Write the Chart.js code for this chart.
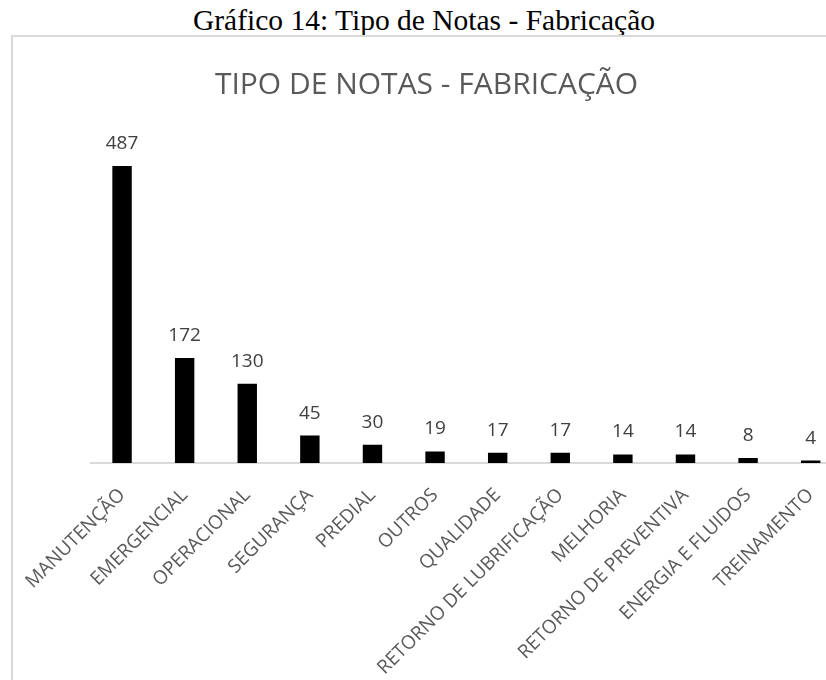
<!DOCTYPE html>
<html>
<head>
<meta charset="utf-8">
<script src="https://cdn.jsdelivr.net/npm/chart.js@4/dist/chart.umd.min.js"></script>
<style>
  html, body { margin: 0; padding: 0; width: 826px; height: 680px; overflow: hidden; background: #fff; }
  #caption { position: absolute; left: 0; top: 3px; width: 848px; height: 34px; line-height: 34px; white-space: nowrap;
             text-align: center; font-family: "Liberation Serif", "Times New Roman", serif; font-size: 29.5px; color: #000; }
  #box { position: absolute; left: 11px; top: 35px; width: 900px; height: 700px; border: 2px solid #d9d9d9; box-sizing: border-box; }
  #title { position: absolute; left: 0; top: 62px; width: 853px; height: 41px; line-height: 41px; white-space: nowrap;
           text-align: center; font-family: "Open Sans", sans-serif; font-size: 30px; color: #595959; }
  #wrap { position: absolute; left: 13px; top: 37px; width: 860px; height: 643px; }
</style>
</head>
<body>
<div id="caption">Gráfico 14: Tipo de Notas - Fabricação</div>
<div id="box"></div>
<div id="wrap"><canvas id="c" width="860" height="643"></canvas></div>
<div id="title"></div>
<script>
const chartTitle = "TIPO DE NOTAS - FABRICAÇÃO";
const categories = ["MANUTENÇÃO", "EMERGENCIAL", "OPERACIONAL", "SEGURANÇA", "PREDIAL", "OUTROS",
  "QUALIDADE", "RETORNO DE LUBRIFICAÇÃO", "MELHORIA", "RETORNO DE PREVENTIVA", "ENERGIA E FLUIDOS", "TREINAMENTO"];
const values = [487, 172, 130, 45, 30, 19, 17, 17, 14, 14, 8, 4];

document.getElementById('title').textContent = chartTitle;

const dataLabels = {
  id: 'dataLabels',
  afterDatasetsDraw(chart) {
    const ctx = chart.ctx;
    const meta = chart.getDatasetMeta(0);
    ctx.save();
    ctx.font = '19px "Open Sans"';
    ctx.fillStyle = '#404040';
    ctx.textAlign = 'center';
    ctx.textBaseline = 'alphabetic';
    meta.data.forEach((bar, i) => {
      ctx.fillText(String(values[i]), bar.x, bar.y - 17);
    });
    ctx.restore();
  }
};

new Chart(document.getElementById('c'), {
  type: 'bar',
  data: {
    labels: categories,
    datasets: [{
      data: values,
      backgroundColor: '#000000',
      borderWidth: 0,
      barPercentage: 1,
      categoryPercentage: 0.31
    }]
  },
  options: {
    responsive: false,
    animation: false,
    devicePixelRatio: 1,
    layout: { padding: { left: 76, right: 31, top: 90.5, bottom: 0 } },
    plugins: {
      legend: { display: false },
      tooltip: { enabled: false },
      title: { display: false }
    },
    scales: {
      x: {
        grid: { display: false },
        border: { display: true, color: '#d9d9d9', width: 2 },
        ticks: {
          autoSkip: false,
          minRotation: 45,
          maxRotation: 45,
          color: '#595959',
          font: { family: '"Open Sans"', size: 19 },
          padding: 13
        },
        afterFit(scale) { scale.height = 217; }
      },
      y: {
        display: false,
        min: 0,
        max: 550
      }
    }
  },
  plugins: [dataLabels]
});
</script>
</body>
</html>
